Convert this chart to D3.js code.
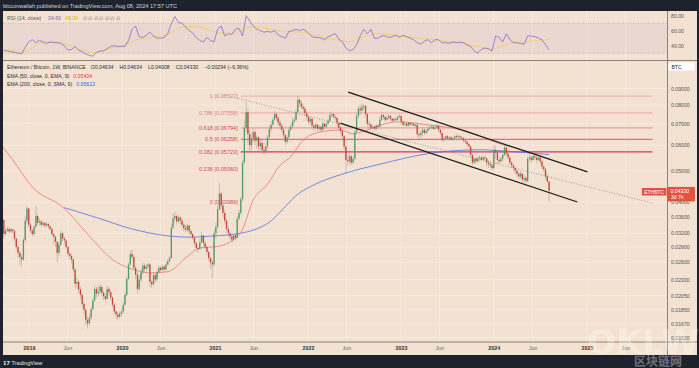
<!DOCTYPE html>
<html><head><meta charset="utf-8">
<script src="https://cdn.jsdelivr.net/npm/d3@7"></script>
<style>
html,body{margin:0;padding:0;background:#1e222d;overflow:hidden;}
svg{display:block;font-family:"Liberation Sans",Arial,sans-serif;}
</style></head><body>
<svg id="c" width="699" height="368"></svg>
<script>
// ---------- DATA (prices in units of 1e-5 BTC, weekly candles) ----------
const weekStart = "2018-09-17";
const firstOpen = 3650;
const closeP = [3520,3180,3260,3300,3240,3290,3250,3080,2900,2780,
2700,2650,3050,3500,3820,3400,3260,3180,3350,3620,
3450,3480,3400,3440,3380,3420,3360,3300,3180,3120,
3010,2780,2950,3200,3080,3040,2900,2760,2720,2650,
2470,2230,2260,2140,2060,1930,1850,1720,1680,1750,
1860,1980,2150,2080,2110,2180,2090,2040,2000,2150,
2100,2020,1920,1830,1790,1760,1800,1830,1920,2060,
2310,2560,2760,2700,2500,2380,2150,2300,2420,2540,
2480,2520,2560,2260,2220,2370,2300,2420,2500,2460,
2520,2470,2560,2620,2680,3330,3560,3620,3480,3580,
3500,3400,3320,3280,3380,3250,3180,3100,2980,2880,
2860,3000,3150,2980,2900,2800,2680,2600,2560,3200,
3350,3800,4250,3900,3700,3500,3300,3200,3130,3060,
3150,3100,3550,3700,4080,5300,6800,7600,6500,6000,
6300,6600,6200,6350,5950,6100,5800,5750,5950,6350,
6750,6950,7200,7500,7300,7050,6900,6700,6450,6150,
6350,6700,6850,7100,7200,7600,8300,8100,7900,7800,
7550,7350,7100,7250,6900,6800,6950,6750,6850,6700,
7000,6850,7000,7150,7450,7500,7350,7300,7050,6800,
6650,6400,5950,5400,5350,5550,5300,5450,6600,7400,
7800,7700,7900,7950,7500,7000,6950,6800,6850,6750,
6900,6850,7200,7450,7350,7200,7300,7400,7250,7150,
7250,7200,7350,7400,7100,6950,7000,6900,7050,6950,
7000,6900,6950,6500,6450,6550,6700,6550,6650,6750,
6800,6850,6750,6800,6900,6700,6550,6250,6300,6400,
6300,6350,6250,6300,6400,6350,6400,6350,6300,6200,
6150,6050,5950,5600,5300,5450,5350,5450,5500,5400,
5500,5450,5300,5250,5200,5100,5800,5700,5400,5350,
5450,5600,5900,5650,5500,5300,5200,5100,5000,4900,
4800,4900,4700,4750,4650,5450,5500,5400,5550,5500,
5400,5500,5350,5150,5050,4800,4634,4330];
const highP = [3760,3540,3320,3360,3330,3320,3310,3270,3100,2950,
2820,2760,3100,3620,3880,3840,3450,3300,3400,3900,
3680,3560,3520,3490,3470,3480,3450,3400,3320,3200,
3150,3020,3020,3260,3220,3120,3060,2920,2800,2760,
2680,2500,2330,2290,2180,2090,1960,1870,1760,1800,
1890,2020,2200,2180,2200,2230,2200,2120,2080,2200,
2180,2120,2040,1940,1850,1820,1830,1860,1960,2100,
2350,2600,2840,2850,2740,2520,2420,2380,2480,2600,
2580,2570,2600,2580,2300,2420,2400,2460,2540,2530,
2560,2540,2600,2660,2720,3420,3680,3720,3660,3650,
3620,3560,3440,3400,3420,3400,3280,3210,3120,3010,
2920,3080,3220,3160,3030,2920,2820,2700,2650,3280,
3450,3900,4580,4300,3950,3780,3560,3380,3240,3180,
3200,3200,3620,3780,4150,5400,7200,8200,7800,6700,
6500,6800,6700,6450,6400,6250,6200,5950,6100,6450,
6900,7100,7350,7650,7600,7400,7200,7000,6800,6500,
6450,6850,7000,7300,7350,7750,8527,8400,8250,8050,
7900,7650,7450,7350,7300,7000,7050,7000,6950,6900,
7100,7050,7100,7250,7600,7650,7550,7450,7350,7100,
6850,6700,6450,6000,5600,5650,5600,5550,6700,7550,
7950,8000,8100,8050,8000,7550,7150,7050,6950,6900,
7000,6950,7350,7550,7500,7400,7450,7500,7450,7300,
7300,7300,7450,7500,7450,7150,7100,7050,7100,7100,
7050,7050,7000,6980,6600,6650,6800,6750,6750,6850,
6900,6950,6900,6900,7000,6950,6750,6600,6400,6450,
6450,6400,6400,6350,6450,6500,6500,6450,6400,6350,
6250,6200,6100,6000,5650,5500,5500,5550,5600,5550,
5600,5550,5500,5400,5350,5300,6000,5950,5750,5500,
5550,5700,6050,5950,5700,5550,5350,5250,5150,5050,
4950,5000,4900,4850,4800,5550,5650,5550,5600,5600,
5550,5600,5550,5400,5200,5100,4900,4634];
const lowP = [3450,3080,3150,3230,3200,3210,3200,3020,2850,2700,
2560,2500,2620,3000,3420,3330,3200,3120,3150,3320,
3400,3380,3350,3360,3320,3350,3300,3250,3130,2960,
2900,2600,2720,2920,3020,2960,2860,2700,2650,2580,
2430,2170,2150,2080,2000,1880,1790,1660,1620,1650,
1720,1840,1960,2020,2040,2060,2040,1990,1960,1990,
2050,1980,1880,1800,1740,1720,1740,1760,1800,1900,
2040,2290,2540,2650,2460,2300,2080,2120,2260,2380,
2420,2440,2480,2180,2160,2200,2250,2280,2400,2420,
2440,2430,2460,2540,2600,2660,3300,3480,3400,3440,
3420,3340,3250,3220,3220,3180,3120,3050,2930,2820,
2780,2840,2980,2920,2850,2740,2620,2480,2320,2520,
3080,3300,3780,3780,3580,3420,3220,3120,3050,3000,
3020,3040,3080,3500,3650,4000,5200,6600,6000,5750,
5800,6100,6000,5850,5700,5800,5650,5600,5650,5850,
6300,6600,6900,7150,7150,6900,6750,6550,6300,6000,
6050,6300,6600,6800,6950,7150,7550,7900,7750,7600,
7400,7150,6950,6950,6750,6650,6700,6600,6650,6600,
6650,6750,6800,6950,7100,7350,7250,7150,6900,6650,
6500,6200,5800,4900,5200,5250,5200,5250,5400,6550,
7300,7450,7550,7700,7350,6850,6800,6700,6700,6650,
6700,6750,6850,7150,7200,7100,7150,7200,7150,7050,
7100,7100,7150,7250,6950,6850,6900,6850,6850,6900,
6900,6850,6850,6350,6300,6350,6400,6450,6500,6600,
6700,6750,6700,6700,6750,6600,6450,6150,6150,6200,
6250,6200,6200,6200,6250,6300,6300,6250,6250,6150,
6050,5950,5850,5500,5200,5250,5250,5300,5350,5350,
5400,5350,5150,5100,5100,5000,5050,5450,5250,5250,
5300,5350,5550,5550,5400,5200,5100,5000,4900,4800,
4700,4750,4600,4600,4580,4620,5350,5300,5350,5400,
5300,5350,5250,5050,4950,4700,4600,4008];

// RSI(14) every 2nd week (starting week 1), and its moving average every 4th week (starting week 3)
const rsi = [34,33,32,31,30,29,38,45,48,44,
47,45,43,45,44,44,43,40,34,35,
39,34,32,29,27,26,31,33,33,36,
39,40,39,39,39,47,62,66,52,51,
54,58,53,50,50,51,56,69,79,71,
70,65,60,57,51,47,45,51,47,45,
62,66,53,56,55,62,63,53,80,73,
66,62,60,58,59,58,60,54,52,50,
59,60,62,60,62,59,54,51,51,50,
48,52,54,56,49,45,37,33,35,41,
53,62,56,62,50,50,53,53,51,52,
54,51,54,52,50,48,44,42,46,48,
44,48,48,44,44,43,45,44,45,44,
41,39,33,30,35,37,36,33,53,51,
45,56,48,44,44,43,42,53,53,52,
50,48,41,34.6];
const rsiMA = [34.3,33,31.6,34.3,41,44.5,45.4,44.5,43.2,39.6,
35.6,33,30.7,32,35.2,37.8,39.6,44,47.6,49.8,
51.2,52,53.8,57.4,63.2,65.4,65.4,64.5,61.8,58.7,
57.4,56.5,58.3,60,64.5,65.4,63.6,61.8,60,58.7,
58.7,58.3,56.5,54.3,52,49.8,48.5,46.7,45.4,48.5,
52,54.3,56.5,55.6,54.3,52.9,52,51.2,49.8,48.9,
47.6,46.7,45.4,44,42.7,40.9,38.7,36.5,35.2,38.7,
41.8,44,45,45.9,46.7,47.6,48.34];

// Moving averages (week index -> value)
const emaWeeks = [0,6,17,34,51,62,71,83,93,104,111,121,134,141,149,156,162,169,179,190,197,205,212,223,240,261,278,295,307];
const ema50 = [0.0597,0.0541,0.0445,0.0386,0.0305,0.0265,0.0250,0.0241,0.0243,0.0271,0.0288,0.0291,0.0322,0.0406,0.0455,0.0520,0.0552,0.0623,0.0660,0.0669,0.0651,0.0669,0.0693,0.0709,0.0693,0.0664,0.0610,0.0573,0.05434];
const smaWeeks = [35,53,72,93,106,119,134,149,167,175,193,212,240,268,287,307];
const sma200 = [0.0384,0.0358,0.0331,0.0314,0.0311,0.0314,0.0320,0.0343,0.0427,0.0452,0.0492,0.0524,0.0566,0.0581,0.0573,0.05613];

// Legend values
const legendOHLC = [["O",0.04634],["H",0.04634],["L",0.04008],["C",0.04330]];
const legendChange = [-0.00294, -6.36];

// Fibonacci retracement
const fibRatios = ["1","0.786","0.618","0.5","0.382","0.236","0"];
const fibValues = [0.08527,0.07558,0.06794,0.06258,0.05723,0.05060,0.03989];
const fibSpan = ["2021-04-12","2025-09-15"];

// Trend lines [date, value]
const channelUpper = [["2022-06-08",0.0877],["2025-01-03",0.0496]];
const channelLower = [["2022-05-08",0.0703],["2024-11-24",0.0400]];
const trendDotted  = [["2021-03-14",0.0846],["2025-09-15",0.0397]];

// Axis ticks
const priceTicks = [0.09,0.08,0.07,0.06,0.05,0.04,0.036,0.032,0.029,0.026,0.023,0.0205,0.0185,0.0167,0.0152];
const rsiTicks = [80,60,40];
const timeTicks = ["2019","Jun","2020","Jun","2021","Jun","2022","Jun","2023","Jun","2024","Jun","2025","Jun"];
const timeTickDates = ["2019-01-01","2019-06-01","2020-01-01","2020-06-01","2021-01-01","2021-06-01","2022-01-01","2022-06-01","2023-01-01","2023-06-01","2024-01-01","2024-06-01","2025-01-01","2025-06-01"];
const lastPrice = 0.04330;

// ---------- DRAW ----------
const P = d3.utcParse("%Y-%m-%d");
const svg = d3.select("#c");
const BG = "#f3e2d1", DARK = "#1e222d";
const L = 3, R = 667, RIGHT = 697;
const mainTop = 61, mainBot = 342, rsiTop = 11, rsiBot = 60.5;

const x = d3.scaleUtc().domain([P("2019-01-01"), P("2025-01-01")]).range([29, 587]);
const y = d3.scaleLog().domain([0.08, 0.04]).range([105, 202]);
const yR = d3.scaleLinear().domain([80, 40]).range([15.7, 45.7]);
const t0 = P(weekStart).getTime();
const wDate = w => new Date(t0 + w * 7 * 864e5);

const candles = closeP.map((c, i) => ({
  d: wDate(i), o: (i ? closeP[i-1] : firstOpen) / 1e5, c: c / 1e5, h: highP[i] / 1e5, l: lowP[i] / 1e5
}));

// frame
svg.append("rect").attr("width", 699).attr("height", 368).attr("fill", DARK);
svg.append("rect").attr("x", L).attr("y", rsiTop).attr("width", RIGHT - L).attr("height", 355 - rsiTop).attr("fill", BG);

const defs = svg.append("defs");
defs.append("clipPath").attr("id", "cm").append("rect").attr("x", L).attr("y", mainTop).attr("width", R - L).attr("height", mainBot - mainTop);
defs.append("clipPath").attr("id", "cr").append("rect").attr("x", L).attr("y", rsiTop).attr("width", R - L).attr("height", rsiBot - rsiTop);

// grid
const grid = svg.append("g").attr("stroke", "#f8eee4").attr("stroke-width", 0.7);
timeTickDates.forEach(d => {
  grid.append("line").attr("x1", x(P(d))).attr("x2", x(P(d))).attr("y1", rsiTop).attr("y2", mainBot);
});
priceTicks.forEach(v => {
  grid.append("line").attr("x1", L).attr("x2", R).attr("y1", y(v)).attr("y2", y(v));
});

// ---- RSI panel ----
const rg = svg.append("g").attr("clip-path", "url(#cr)");
rg.append("rect").attr("x", L).attr("width", R - L).attr("y", yR(70)).attr("height", yR(30) - yR(70)).attr("fill", "rgba(126,87,194,0.07)");
[70, 30].forEach(v => rg.append("line").attr("x1", L).attr("x2", R).attr("y1", yR(v)).attr("y2", yR(v))
  .attr("stroke", "#a89db8").attr("stroke-width", 0.6).attr("stroke-dasharray", "1,1.5"));
rg.append("path").datum(rsiMA).attr("fill", "none").attr("stroke", "#f2d04f").attr("stroke-width", 0.8)
  .attr("d", d3.line().x((v, j) => x(wDate(3 + 4 * j))).y(v => yR(v)).curve(d3.curveMonotoneX));
rg.append("path").datum(rsi).attr("fill", "none").attr("stroke", "#8a62cf").attr("stroke-width", 0.75)
  .attr("d", d3.line().x((v, i) => x(wDate(1 + 2 * i))).y(v => yR(v)));

const rsiLab = svg.append("text").attr("x", 7).attr("y", 20).attr("font-size", 5.2);
rsiLab.append("tspan").attr("fill", "#555").text("RSI (14, close)");
rsiLab.append("tspan").attr("x", 48).attr("fill", "#7e57c2").text(rsi[rsi.length - 1].toFixed(2));
rsiLab.append("tspan").attr("x", 65).attr("fill", "#d9b420").text(rsiMA[rsiMA.length - 1].toFixed(2));
rsiLab.append("tspan").attr("x", 83).attr("fill", "#777").text("∅ ∅ ∅ ∅ ∅ ∅ ∅");

const rAx = svg.append("g").attr("transform", `translate(${R},0)`)
  .call(d3.axisRight(yR).tickValues(rsiTicks).tickFormat(d3.format(".2f")).tickSize(0).tickPadding(4));
rAx.select(".domain").remove();
rAx.selectAll("text").attr("font-size", 5.2).attr("fill", "#555").attr("font-family", "Liberation Sans, Arial");

// ---- main panel ----
const mg = svg.append("g").attr("clip-path", "url(#cm)");

// fib
const fibColors = ["#f2b6b6", "#f0b1ad", "#eb9ca6", "#df6e8b", "#d5346a", null, null];
const fibLabelColors = ["#e07d93", "#e07d93", "#d9466f", "#d9466f", "#d9466f", "#d9466f", "#d9466f"];
const fx1 = x(P(fibSpan[0])), fx2 = x(P(fibSpan[1]));
fibValues.forEach((v, k) => {
  if (fibColors[k]) mg.append("line").attr("x1", fx1).attr("x2", fx2).attr("y1", y(v)).attr("y2", y(v))
    .attr("stroke", fibColors[k]).attr("stroke-width", k === 4 ? 1.4 : 1.2);
  svg.append("text").attr("x", fx1 - 3).attr("y", y(v) + 2).attr("text-anchor", "end")
    .attr("font-size", 5.6).attr("fill", fibLabelColors[k])
    .text(`${fibRatios[k]} [${v.toFixed(5)}]`);
});

// moving averages
mg.append("path").datum(smaWeeks.map((w, i) => [w, sma200[i]])).attr("fill", "none").attr("stroke", "#4f72ea").attr("stroke-width", 0.8)
  .attr("d", d3.line().x(d => x(wDate(d[0]))).y(d => y(d[1])).curve(d3.curveMonotoneX));
mg.append("path").datum(emaWeeks.map((w, i) => [w, ema50[i]])).attr("fill", "none").attr("stroke", "#ef7373").attr("stroke-width", 0.8)
  .attr("d", d3.line().x(d => x(wDate(d[0]))).y(d => y(d[1])).curve(d3.curveMonotoneX));

// candles
const cg = mg.append("g");
cg.selectAll("line.w").data(candles).join("line").attr("class", "w")
  .attr("x1", d => x(d.d)).attr("x2", d => x(d.d)).attr("y1", d => y(d.h)).attr("y2", d => y(d.l))
  .attr("stroke", "#958c84").attr("stroke-width", 0.6).attr("opacity", 0.75);
cg.selectAll("rect").data(candles).join("rect")
  .attr("x", d => x(d.d) - 0.65).attr("width", 1.3)
  .attr("y", d => y(Math.max(d.o, d.c))).attr("height", d => Math.max(0.6, Math.abs(y(d.o) - y(d.c))))
  .attr("fill", d => d.c >= d.o ? "#4f9a66" : "#c8432f");

// trend lines
const tl = d3.line().x(d => x(P(d[0]))).y(d => y(d[1]));
mg.append("path").datum(trendDotted).attr("d", tl).attr("stroke", "#8f8a86").attr("stroke-width", 0.8).attr("stroke-dasharray", "1,1.6").attr("fill", "none");
mg.append("path").datum(channelUpper).attr("d", tl).attr("stroke", "#1b1b1b").attr("stroke-width", 1.3).attr("fill", "none");
mg.append("path").datum(channelLower).attr("d", tl).attr("stroke", "#1b1b1b").attr("stroke-width", 1.3).attr("fill", "none");

// legend (laid out left to right)
const lg = svg.append("g").attr("font-size", 5.2).attr("fill", "#2a2e39");
let cx = 7;
function put(str, yy, gap, fill) {
  const t = lg.append("text").attr("x", cx).attr("y", yy).text(str);
  if (fill) t.attr("fill", fill);
  cx += t.node().getComputedTextLength() + gap;
  return t;
}
put("Ethereum / Bitcoin, 1W, BINANCE", 69, 5);
legendOHLC.forEach(([k, v]) => put(k + v.toFixed(5), 69, 6));
put(`−${Math.abs(legendChange[0]).toFixed(5)} (−${Math.abs(legendChange[1]).toFixed(2)}%)`, 69, 0);
cx = 7; put("EMA (50, close, 0, EMA, 9)", 77.5, 4);
put(ema50[ema50.length - 1].toFixed(5), 77.5, 0, "#f23645");
cx = 7; put("EMA (200, close, 0, SMA, 9)", 85.5, 4);
put(sma200[sma200.length - 1].toFixed(5), 85.5, 0, "#2962ff");

// price axis
const pAx = svg.append("g").attr("transform", `translate(${R},0)`)
  .call(d3.axisRight(y).tickValues(priceTicks).tickFormat(d3.format(".5f")).tickSize(0).tickPadding(4));
pAx.select(".domain").remove();
pAx.selectAll("text").attr("font-size", 5.2).attr("fill", "#555").attr("font-family", "Liberation Sans, Arial");

// separators
const sep = svg.append("g").attr("stroke", "#6b6b6b").attr("stroke-width", 0.8);
sep.append("line").attr("x1", R + 0.5).attr("x2", R + 0.5).attr("y1", rsiTop).attr("y2", 355);
sep.append("line").attr("x1", L).attr("x2", RIGHT).attr("y1", rsiBot).attr("y2", rsiBot);
sep.append("line").attr("x1", L).attr("x2", RIGHT).attr("y1", mainBot).attr("y2", mainBot);

// BTC tag
svg.append("rect").attr("x", 668.5).attr("y", 62.5).attr("width", 26).attr("height", 8).attr("rx", 1.5).attr("fill", "#fff");
svg.append("text").attr("x", 671.5).attr("y", 68.6).attr("font-size", 5).attr("fill", "#222").text("BTC");

// last price label
const PR = "#e4533d";
svg.append("rect").attr("x", 642).attr("y", 188).attr("width", 24.5).attr("height", 7.5).attr("fill", PR);
svg.append("text").attr("x", 654.2).attr("y", 193.6).attr("text-anchor", "middle").attr("font-size", 5).attr("fill", "#fff").text("ETHBTC");
svg.append("rect").attr("x", 667).attr("y", y(lastPrice) - 4).attr("width", 28).attr("height", 14.5).attr("fill", PR);
svg.append("text").attr("x", 670.5).attr("y", y(lastPrice) + 1.8).attr("font-size", 5.2).attr("fill", "#fff").text(lastPrice.toFixed(5));
svg.append("text").attr("x", 671).attr("y", y(lastPrice) + 8.2).attr("font-size", 5).attr("fill", "#fff").text("3d 7h");

// time axis
const tAx = svg.append("g").attr("transform", `translate(0,${mainBot})`)
  .call(d3.axisBottom(x).tickValues(timeTickDates.map(P)).tickFormat((d, i) => timeTicks[i]).tickSize(0).tickPadding(4));
tAx.select(".domain").remove();
tAx.selectAll("text").attr("font-size", 5.4).attr("font-family", "Liberation Sans, Arial")
  .attr("fill", (d, i) => timeTicks[i] === "Jun" ? "#666" : "#333")
  .attr("font-weight", (d, i) => timeTicks[i] === "Jun" ? "normal" : "bold");

// header & footer
svg.append("text").attr("x", 3).attr("y", 7.6).attr("font-size", 5.6).attr("fill", "#d1d4dc")
  .text("bitcoinwallah published on TradingView.com, Aug 08, 2024 17:57 UTC");
svg.append("text").attr("x", 3).attr("y", 364.5).attr("font-size", 6.2).attr("font-weight", "bold").attr("fill", "#e6e6e6").text("17");
svg.append("text").attr("x", 11.5).attr("y", 364.5).attr("font-size", 5.6).attr("fill", "#e6e6e6").text("TradingView");

// watermark
svg.append("text").attr("x", 643).attr("y", 354).attr("text-anchor", "middle").attr("font-size", 34).attr("font-weight", "bold")
  .attr("fill", "#ffffff").attr("opacity", 0.28).attr("font-family", "DejaVu Sans, Arial").text("OKLW");
svg.append("text").attr("x", 658).attr("y", 365.5).attr("text-anchor", "middle").attr("font-size", 12).attr("font-weight", "bold")
  .attr("fill", "#ffffff").attr("opacity", 0.35).attr("font-family", "Noto Sans CJK SC").text("区块链网");
</script>
</body></html>
